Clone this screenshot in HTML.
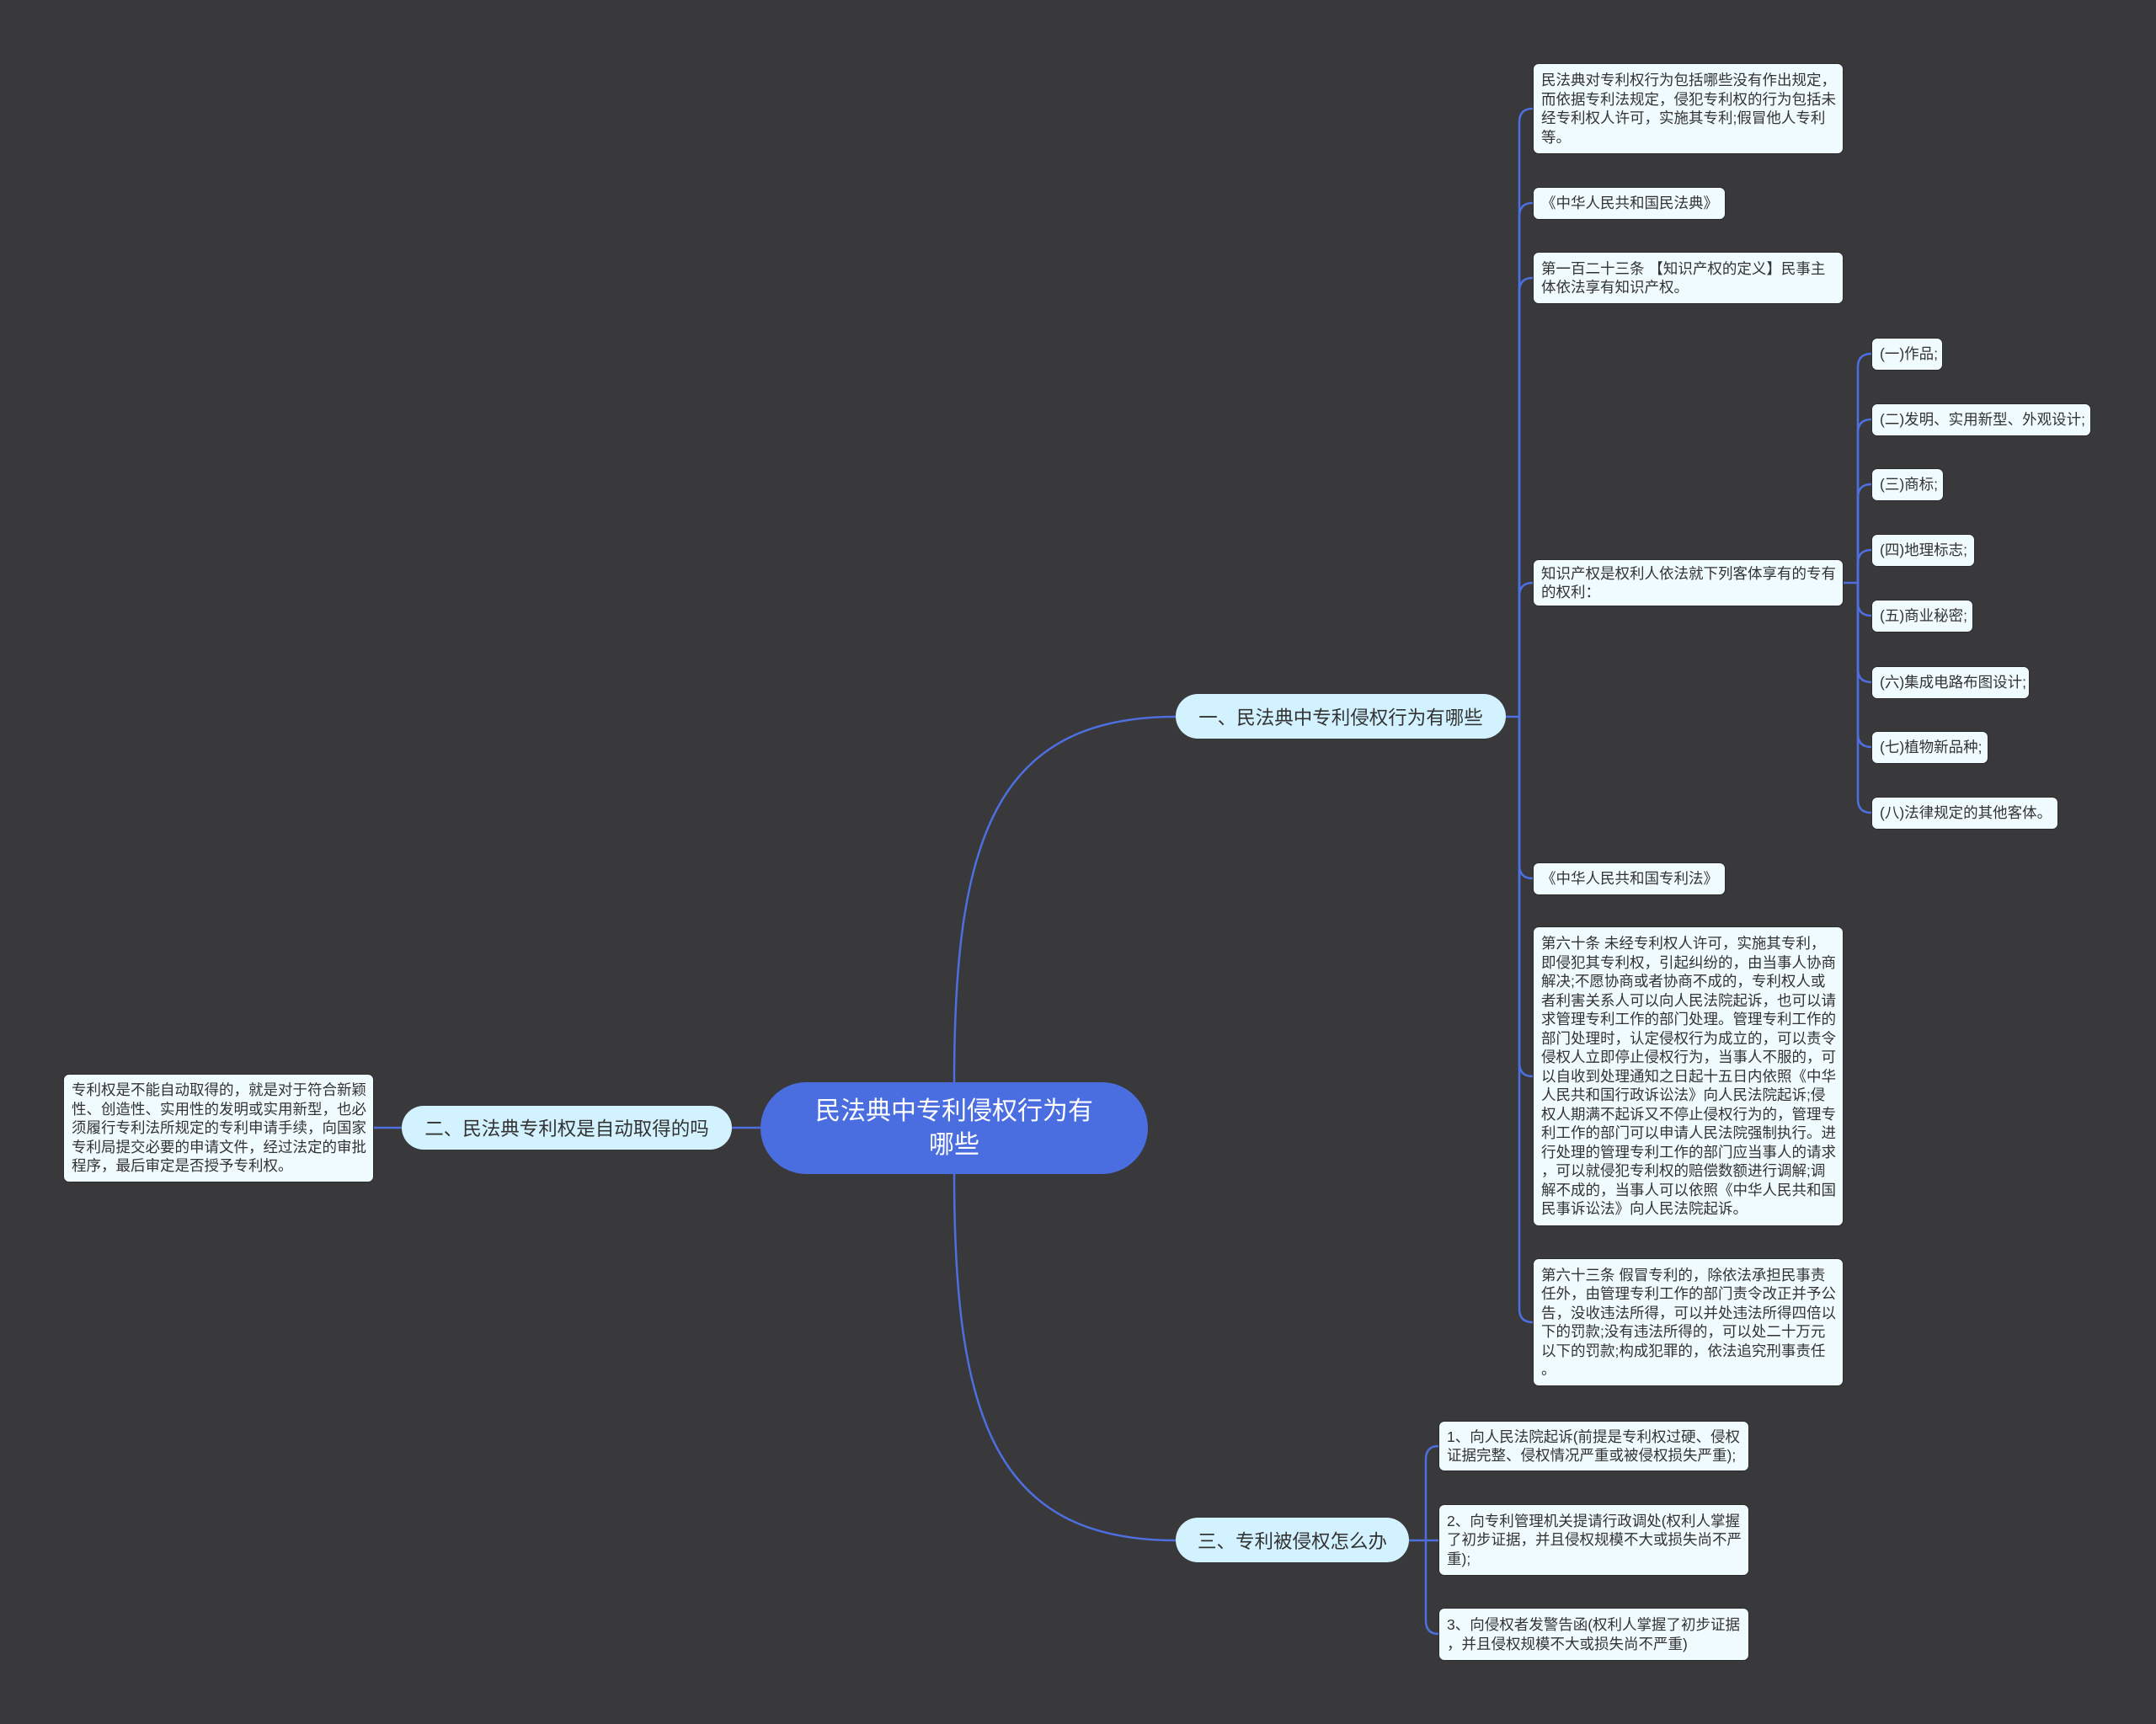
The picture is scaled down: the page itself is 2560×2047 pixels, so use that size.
<!DOCTYPE html>
<html><head><meta charset="utf-8"><style>
html,body{margin:0;padding:0}
body{width:2560px;height:2047px;background:#39383a;position:relative;overflow:hidden;font-family:"Liberation Sans","Noto Sans CJK SC",sans-serif}
.n{position:absolute;box-sizing:border-box;display:flex;align-items:center;white-space:nowrap}
.leaf{background:#f0fbff;border-radius:7px;color:#333;font-size:17.5px;line-height:22.5px;padding:0 9px;border:1px solid #2c2c2e}
.br{background:#d3f2ff;border-radius:27px;color:#333;font-size:22.5px;justify-content:center}
.root{background:#4a6de0;border-radius:55px;color:#fff;font-size:30px;line-height:40px;justify-content:center;text-align:center}
svg{position:absolute;left:0;top:0}
</style></head><body>
<svg width="2560" height="2047" fill="none" stroke="#4d6fe0" stroke-width="2.5">
<path d="M1133,1285 C1133,1000 1180,851 1396,851"/>
<path d="M1133,1394 C1133,1680 1180,1829 1396,1829"/>
<path d="M903,1339 L869,1339"/>
<path d="M477,1339 L444,1339"/>
<path d="M1788,851 L1804,851"/>
<path d="M1804,851 L1804,145 Q1804,129 1820,129"/>
<path d="M1804,851 L1804,257 Q1804,241 1820,241"/>
<path d="M1804,851 L1804,346 Q1804,330 1820,330"/>
<path d="M1804,851 L1804,708 Q1804,692 1820,692"/>
<path d="M1804,851 L1804,1027 Q1804,1043 1820,1043"/>
<path d="M1804,851 L1804,1262 Q1804,1278 1820,1278"/>
<path d="M1804,851 L1804,1554 Q1804,1570 1820,1570"/>
<path d="M2189,692 L2206,692"/>
<path d="M2206,692 L2206,436 Q2206,420 2222,420"/>
<path d="M2206,692 L2206,514 Q2206,498 2222,498"/>
<path d="M2206,692 L2206,591 Q2206,575 2222,575"/>
<path d="M2206,692 L2206,669 Q2206,653 2222,653"/>
<path d="M2206,692 L2206,715 Q2206,731 2222,731"/>
<path d="M2206,692 L2206,794 Q2206,810 2222,810"/>
<path d="M2206,692 L2206,871 Q2206,887 2222,887"/>
<path d="M2206,692 L2206,949 Q2206,965 2222,965"/>
<path d="M1673,1829 L1693,1829"/>
<path d="M1693,1829 L1693,1733 Q1693,1717 1708,1717"/>
<path d="M1693,1829 L1693,1829 L1708,1829"/>
<path d="M1693,1829 L1693,1924 Q1693,1940 1708,1940"/>
</svg>

<div class="n root" style="left:903px;top:1285px;width:460px;height:109px">民法典中专利侵权行为有<br>哪些</div>
<div class="n br" style="left:1396px;top:824px;width:392px;height:53px">一、民法典中专利侵权行为有哪些</div>
<div class="n br" style="left:477px;top:1313px;width:392px;height:52px">二、民法典专利权是自动取得的吗</div>
<div class="n br" style="left:1396px;top:1802px;width:277px;height:53px">三、专利被侵权怎么办</div>

<div class="n leaf" style="left:75px;top:1275px;width:369px;height:129px">专利权是不能自动取得的，就是对于符合新颖<br>性、创造性、实用性的发明或实用新型，也必<br>须履行专利法所规定的专利申请手续，向国家<br>专利局提交必要的申请文件，经过法定的审批<br>程序，最后审定是否授予专利权。</div>

<div class="n leaf" style="left:1820px;top:75px;width:369px;height:108px">民法典对专利权行为包括哪些没有作出规定，<br>而依据专利法规定，侵犯专利权的行为包括未<br>经专利权人许可，实施其专利;假冒他人专利<br>等。</div>
<div class="n leaf" style="left:1820px;top:222px;width:229px;height:39px">《中华人民共和国民法典》</div>
<div class="n leaf" style="left:1820px;top:299px;width:369px;height:62px">第一百二十三条 【知识产权的定义】民事主<br>体依法享有知识产权。</div>
<div class="n leaf" style="left:1820px;top:664px;width:369px;height:56px">知识产权是权利人依法就下列客体享有的专有<br>的权利：</div>
<div class="n leaf" style="left:1820px;top:1024px;width:229px;height:39px">《中华人民共和国专利法》</div>
<div class="n leaf" style="left:1820px;top:1100px;width:369px;height:356px">第六十条 未经专利权人许可，实施其专利，<br>即侵犯其专利权，引起纠纷的，由当事人协商<br>解决;不愿协商或者协商不成的，专利权人或<br>者利害关系人可以向人民法院起诉，也可以请<br>求管理专利工作的部门处理。管理专利工作的<br>部门处理时，认定侵权行为成立的，可以责令<br>侵权人立即停止侵权行为，当事人不服的，可<br>以自收到处理通知之日起十五日内依照《中华<br>人民共和国行政诉讼法》向人民法院起诉;侵<br>权人期满不起诉又不停止侵权行为的，管理专<br>利工作的部门可以申请人民法院强制执行。进<br>行处理的管理专利工作的部门应当事人的请求<br>，可以就侵犯专利权的赔偿数额进行调解;调<br>解不成的，当事人可以依照《中华人民共和国<br>民事诉讼法》向人民法院起诉。</div>
<div class="n leaf" style="left:1820px;top:1494px;width:369px;height:152px">第六十三条 假冒专利的，除依法承担民事责<br>任外，由管理专利工作的部门责令改正并予公<br>告，没收违法所得，可以并处违法所得四倍以<br>下的罚款;没有违法所得的，可以处二十万元<br>以下的罚款;构成犯罪的，依法追究刑事责任<br>。</div>

<div class="n leaf" style="left:2222px;top:401px;width:85px;height:39px">(一)作品;</div>
<div class="n leaf" style="left:2222px;top:479px;width:261px;height:39px">(二)发明、实用新型、外观设计;</div>
<div class="n leaf" style="left:2222px;top:556px;width:86px;height:39px">(三)商标;</div>
<div class="n leaf" style="left:2222px;top:634px;width:123px;height:39px">(四)地理标志;</div>
<div class="n leaf" style="left:2222px;top:712px;width:121px;height:39px">(五)商业秘密;</div>
<div class="n leaf" style="left:2222px;top:791px;width:188px;height:39px">(六)集成电路布图设计;</div>
<div class="n leaf" style="left:2222px;top:868px;width:139px;height:39px">(七)植物新品种;</div>
<div class="n leaf" style="left:2222px;top:946px;width:222px;height:39px">(八)法律规定的其他客体。</div>

<div class="n leaf" style="left:1708px;top:1687px;width:369px;height:60px">1、向人民法院起诉(前提是专利权过硬、侵权<br>证据完整、侵权情况严重或被侵权损失严重);</div>
<div class="n leaf" style="left:1708px;top:1786px;width:369px;height:85px">2、向专利管理机关提请行政调处(权利人掌握<br>了初步证据，并且侵权规模不大或损失尚不严<br>重);</div>
<div class="n leaf" style="left:1708px;top:1909px;width:369px;height:63px">3、向侵权者发警告函(权利人掌握了初步证据<br>，并且侵权规模不大或损失尚不严重)</div>
</body></html>
